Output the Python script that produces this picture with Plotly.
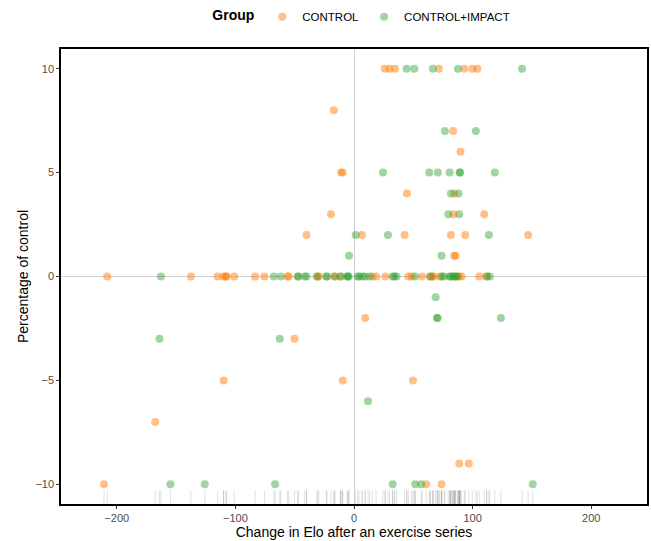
import plotly.graph_objects as go

# ---- data ----
control_x = [26, 30, 34.5, 71.6, 93, 99.7, 104,
             -17,
             83.6,
             89.8,
             -11, -9.5,
             44.6, 84.5,
             -19.4, 83.7, 109.8,
             -40, 6.7, 42.7, 81.7, 93.8, 146.8,
             84.5, 85.5,
             -208, -137.5, -115, -110, -108, -107.5, -101, -83.4, -75.5, -56, -55,
             -30.5, -29.8, -16.8, -11.5, 15.4, 18.6, 26.5, 45.8, 48.6, 57.4, 64, 66.3, 67,
             72.4, 88.7, 90.7, 105.6, 111.7,
             9.5,
             -50.2,
             -109.8, -9.5, 49.7,
             -167.6,
             88.7, 96.8,
             -210.8, 60.9, 73.8]
control_y = [10, 10, 10, 10, 10, 10, 10,
             8,
             7,
             6,
             5, 5,
             4, 4,
             3, 3, 3,
             2, 2, 2, 2, 2, 2,
             1, 1,
             0, 0, 0, 0, 0, 0, 0, 0, 0, 0, 0,
             0, 0, 0, 0, 0, 0, 0, 0, 0, 0, 0, 0, 0,
             0, 0, 0, 0, 0,
             -2,
             -3,
             -5, -5, -5,
             -7,
             -9, -9,
             -10, -10, -10]

impact_x = [44.4, 50.8, 66.5, 87.6, 141.7,
            76.6, 102.7,
            24.4, 63.4, 70.7, 80.6, 89, 89.5, 118.7,
            81.7, 88.1,
            79.5, 88.7,
            1.4, 28.6, 113.7,
            -4.2, 73.8,
            -162.8, -67.6, -61.7, -47.4, -47, -41.6, -40, -31.4, -23.3, -22.8, -16, -11.2,
            -5.8, -5.2, -4.5, 3.1, 4.2, 7, 9.3, 13, 32.6, 34, 35.9, 51.4, 64.5, 74, 76,
            80.8, 81.5, 83, 85, 85.5, 87, 112, 114.5,
            68.8,
            69.9, 70.5, 123.8,
            -164, -62.6,
            11.8,
            -154.7, -125.8, -66.5, 32.6, 51.7, 56.7, 150.7]
impact_y = [10, 10, 10, 10, 10,
            7, 7,
            5, 5, 5, 5, 5, 5, 5,
            4, 4,
            3, 3,
            2, 2, 2,
            1, 1,
            0, 0, 0, 0, 0, 0, 0, 0, 0, 0, 0, 0,
            0, 0, 0, 0, 0, 0, 0, 0, 0, 0, 0, 0, 0, 0, 0,
            0, 0, 0, 0, 0, 0, 0, 0,
            -1,
            -2, -2, -2,
            -3, -3,
            -6,
            -10, -10, -10, -10, -10, -10, -10]

x_ticks = [-200, -100, 0, 100, 200]
y_ticks = [-10, -5, 0, 5, 10]
X_RANGE = [-247, 247]
Y_RANGE = [-10.95, 10.95]

ORANGE = "#FF7F0E"
GREEN = "#2CA02C"

fig = go.Figure()

# rug along the x axis (all points)
rug_len = 0.03 * (Y_RANGE[1] - Y_RANGE[0])
rx, ry = [], []
for v in control_x + impact_x:
    rx += [v, v, None]
    ry += [Y_RANGE[0], Y_RANGE[0] + rug_len, None]
fig.add_trace(go.Scatter(x=rx, y=ry, mode="lines", showlegend=False, hoverinfo="skip",
                         line=dict(color="rgba(0,0,0,0.12)", width=1)))

fig.add_trace(go.Scatter(x=control_x, y=control_y, mode="markers", name="CONTROL",
                         marker=dict(color=ORANGE, size=8, opacity=0.5, line=dict(width=0))))
fig.add_trace(go.Scatter(x=impact_x, y=impact_y, mode="markers", name="CONTROL+IMPACT",
                         marker=dict(color=GREEN, size=8, opacity=0.45, line=dict(width=0))))

axis_common = dict(
    showgrid=False,
    zeroline=True, zerolinecolor="#d0d0d0", zerolinewidth=1.2,
    showline=True, linecolor="black", linewidth=1.5, mirror=True,
    ticks="outside", ticklen=3, tickcolor="#333333", tickwidth=1,
    tickfont=dict(size=11, color="#4d4d4d"),
)

fig.update_xaxes(range=X_RANGE, tickvals=x_ticks, ticktext=[str(t).replace("-", "\u2212") for t in x_ticks],
                 title=dict(text="Change in Elo after an exercise series", font=dict(size=14, color="black"),
                            standoff=4),
                 **axis_common)
fig.update_yaxes(range=Y_RANGE, tickvals=y_ticks, ticktext=[str(t).replace("-", "\u2212") for t in y_ticks],
                 title=dict(text="Percentage of control", font=dict(size=14, color="black"), standoff=3),
                 **axis_common)

fig.update_layout(
    width=651, height=541,
    margin=dict(l=61, r=2, t=47, b=37),
    plot_bgcolor="white", paper_bgcolor="white",
    font=dict(family="Liberation Sans, Arial, sans-serif", color="black"),
    legend=dict(orientation="h", x=0.515, xanchor="center", y=1.071, yanchor="middle",
                title=dict(text="<b>Group</b>", font=dict(size=14)),
                font=dict(size=11.5)),
)

fig.write_html("out.html")
